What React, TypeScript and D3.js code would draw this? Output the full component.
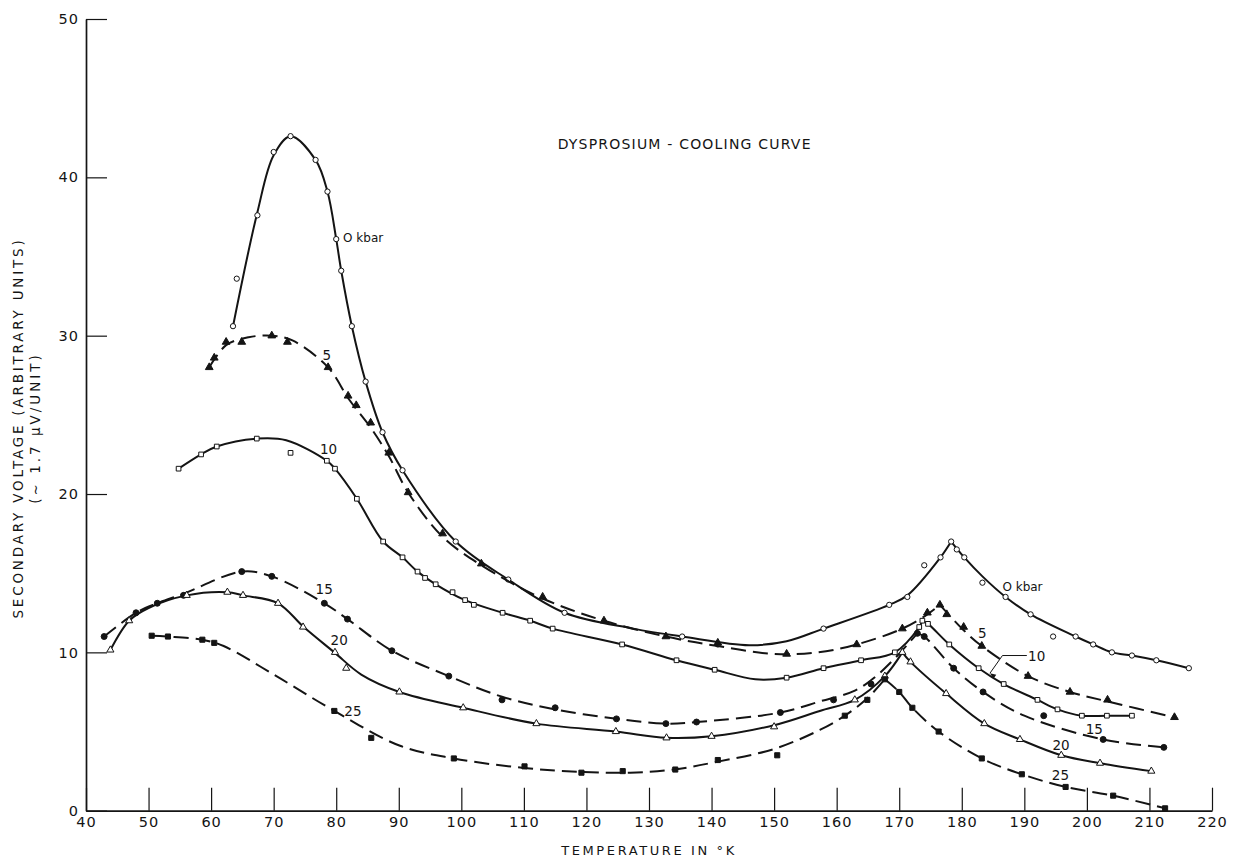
import React, { useRef, useEffect } from "react";
import * as d3 from "d3";

type Pt = [number, number];

// measured points [temperature K, secondary voltage]
const kbar0Points: Pt[] = [
  [63.5, 30.6], [64.1, 33.6], [67.4, 37.6], [70.0, 41.6], [72.7, 42.6], [76.7, 41.1], [78.6, 39.1],
  [80.0, 36.1], [80.8, 34.1], [82.5, 30.6], [84.7, 27.1], [87.4, 23.9], [90.6, 21.5], [99.1, 17.0],
  [107.5, 14.6], [116.5, 12.5], [135.3, 11.0], [141.0, 10.5], [157.9, 11.5], [168.4, 13.0], [171.3, 13.5],
  [174.0, 15.5], [176.6, 16.0], [178.3, 17.0], [179.2, 16.5], [180.4, 16.0], [183.3, 14.4], [187.0, 13.5],
  [191.0, 12.4], [194.6, 11.0], [198.2, 11.0], [201.0, 10.5], [204.0, 10.0], [207.2, 9.8], [211.1, 9.5],
  [216.3, 9.0],
];
const kbar5Points: Pt[] = [
  [59.7, 28.0], [60.5, 28.6], [62.4, 29.6], [64.9, 29.6], [69.7, 30.0], [72.2, 29.6], [78.7, 28.0],
  [81.9, 26.2], [83.2, 25.6], [85.5, 24.5], [88.4, 22.6], [91.5, 20.1], [97.0, 17.5], [103.2, 15.6],
  [113.0, 13.5], [122.8, 12.0], [132.7, 11.0], [141.0, 10.6], [152.0, 9.9], [163.2, 10.5], [170.5, 11.5],
  [174.5, 12.5], [176.5, 13.0], [177.6, 12.4], [180.3, 11.6], [183.2, 10.4], [190.6, 8.5], [197.3, 7.5],
  [203.3, 7.0], [214.0, 5.9],
];
const kbar10Points: Pt[] = [
  [54.8, 21.6], [58.4, 22.5], [60.9, 23.0], [67.3, 23.5], [72.7, 22.6], [78.5, 22.1], [79.8, 21.6],
  [83.3, 19.7], [87.5, 17.0], [90.6, 16.0], [93.0, 15.1], [94.2, 14.7], [95.9, 14.3], [98.6, 13.8],
  [100.6, 13.3], [102.0, 13.0], [106.6, 12.5], [111.0, 12.0], [114.6, 11.5], [125.7, 10.5], [134.4, 9.5],
  [140.5, 8.9], [152.0, 8.4], [157.9, 9.0], [163.9, 9.5], [169.3, 10.0], [173.2, 11.6], [173.7, 12.0],
  [174.6, 11.8], [178.0, 10.5], [182.7, 9.0], [186.7, 8.0], [192.1, 7.0], [195.3, 6.4], [199.2, 6.0],
  [203.2, 6.0], [207.2, 6.0],
];
const kbar15Points: Pt[] = [
  [42.9, 11.0], [48.0, 12.5], [51.4, 13.1], [55.6, 13.6], [64.9, 15.1], [69.7, 14.8], [78.1, 13.1],
  [81.8, 12.1], [88.9, 10.1], [98.0, 8.5], [106.5, 7.0], [115.0, 6.5], [124.8, 5.8], [132.7, 5.5],
  [137.6, 5.6], [151.0, 6.2], [159.5, 7.0], [165.5, 8.0], [172.9, 11.2], [174.0, 11.0], [178.7, 9.0],
  [183.4, 7.5], [193.1, 6.0], [202.6, 4.5], [212.3, 4.0],
];
const kbar20Points: Pt[] = [
  [43.9, 10.15], [46.9, 12.0], [56.1, 13.6], [62.6, 13.8], [65.1, 13.6], [70.7, 13.1], [74.7, 11.6],
  [79.8, 10.0], [81.6, 9.0], [90.1, 7.5], [100.3, 6.5], [112.0, 5.5], [124.7, 5.0], [132.8, 4.6],
  [140.0, 4.7], [150.0, 5.3], [162.9, 7.0], [167.7, 8.5], [170.5, 10.0], [171.8, 9.4], [177.5, 7.4],
  [183.6, 5.5], [189.3, 4.5], [195.9, 3.5], [202.1, 3.0], [210.3, 2.5],
];
const kbar25Points: Pt[] = [
  [50.5, 11.05], [53.1, 11.0], [58.6, 10.8], [60.5, 10.6], [79.7, 6.3], [85.6, 4.6], [98.8, 3.3],
  [110.1, 2.8], [119.2, 2.4], [125.8, 2.5], [134.2, 2.6], [141.0, 3.2], [150.5, 3.5], [161.3, 6.0],
  [164.9, 7.0], [167.7, 8.3], [170.0, 7.5], [172.1, 6.5], [176.3, 5.0], [183.2, 3.3], [189.6, 2.3],
  [196.6, 1.5], [204.2, 0.95], [212.5, 0.15],
];

// smooth curves drawn through the points (cusp at the Neel temperature)
const kbar0Curve: Pt[] = [
  [63.5, 30.6], [67.4, 37.8], [70.0, 41.4], [72.7, 42.6], [76.7, 41.1], [78.6, 39.1], [80.0, 36.1],
  [80.8, 34.1], [82.5, 30.6], [84.7, 27.1], [87.4, 23.9], [90.6, 21.5], [99.1, 17.0], [107.5, 14.6],
  [116.5, 12.5], [127.5, 11.5], [135.3, 11.0], [146.0, 10.45], [152.0, 10.7], [157.9, 11.5], [168.4, 13.0],
  [171.3, 13.6], [176.6, 16.0], [178.3, 17.0], [180.4, 16.0], [183.3, 14.8], [187.0, 13.5], [191.0, 12.4],
  [198.2, 11.0], [201.0, 10.5], [204.0, 10.0], [207.2, 9.8], [211.1, 9.5], [216.3, 9.0],
];
const kbar5Curve: Pt[] = [
  [59.7, 28.0], [62.4, 29.4], [66.0, 29.9], [69.7, 30.0], [73.0, 29.7], [78.7, 28.0], [82.0, 26.0],
  [85.5, 24.2], [88.4, 22.4], [91.5, 20.1], [97.0, 17.3], [103.2, 15.5], [113.0, 13.4], [122.8, 12.0],
  [132.7, 11.0], [141.0, 10.4], [150.0, 9.9], [157.0, 10.0], [163.2, 10.5], [170.5, 11.5], [174.5, 12.4],
  [176.5, 13.0], [180.3, 11.4], [183.2, 10.4], [190.6, 8.5], [197.3, 7.5], [203.3, 6.9], [214.0, 5.9],
];
const kbar10Curve: Pt[] = [
  [54.8, 21.6], [58.4, 22.5], [60.9, 23.0], [67.3, 23.5], [72.0, 23.4], [78.5, 22.1], [79.8, 21.6],
  [83.3, 19.7], [87.5, 17.0], [90.6, 16.0], [93.0, 15.1], [95.9, 14.3], [100.6, 13.3], [106.6, 12.5],
  [111.0, 12.0], [114.6, 11.5], [125.7, 10.5], [134.4, 9.5], [140.5, 8.9], [147.0, 8.3], [152.0, 8.4],
  [157.9, 9.0], [163.9, 9.5], [169.3, 10.0], [173.2, 11.6], [173.7, 12.0], [174.6, 11.8], [178.0, 10.5],
  [182.7, 9.0], [186.7, 8.0], [192.1, 7.0], [195.3, 6.4], [199.2, 6.0], [203.2, 6.0], [207.2, 6.0],
];
const kbar15Curve: Pt[] = [
  [42.9, 11.0], [48.0, 12.5], [51.4, 13.1], [55.6, 13.7], [64.9, 15.1], [69.7, 14.8], [78.1, 13.1],
  [81.8, 12.1], [88.9, 10.1], [98.0, 8.5], [106.5, 7.2], [115.0, 6.4], [124.8, 5.8], [132.7, 5.5],
  [137.6, 5.6], [151.0, 6.2], [157.3, 6.9], [163.0, 7.6], [166.0, 8.4], [169.0, 9.5], [172.9, 11.2],
  [174.0, 11.0], [178.7, 9.0], [183.4, 7.5], [190.0, 6.0], [202.6, 4.5], [212.3, 4.0],
];
const kbar20Curve: Pt[] = [
  [43.9, 10.15], [46.9, 12.0], [50.0, 12.8], [56.1, 13.6], [62.6, 13.8], [65.1, 13.6], [70.7, 13.1],
  [74.8, 11.6], [79.7, 10.0], [84.0, 8.6], [90.1, 7.5], [100.3, 6.5], [112.0, 5.5], [124.7, 5.0],
  [132.8, 4.6], [140.0, 4.7], [150.0, 5.4], [157.3, 6.3], [162.9, 7.0], [167.7, 8.5], [170.5, 10.0],
  [171.8, 9.4], [177.5, 7.4], [183.6, 5.5], [189.3, 4.5], [195.9, 3.5], [202.1, 3.0], [210.3, 2.5],
];
const kbar25Curve: Pt[] = [
  [50.5, 11.05], [53.0, 11.0], [58.6, 10.8], [62.0, 10.4], [70.0, 8.6], [79.7, 6.3], [90.2, 4.1],
  [98.8, 3.3], [110.0, 2.7], [119.0, 2.45], [127.0, 2.4], [134.0, 2.6], [141.0, 3.1], [150.0, 3.9],
  [157.3, 5.1], [161.3, 6.0], [164.9, 7.1], [167.7, 8.3], [170.0, 7.5], [172.1, 6.5], [176.3, 5.0],
  [183.2, 3.3], [189.6, 2.3], [196.6, 1.5], [204.2, 0.95], [212.5, 0.15],
];
const cuspTemps = [178.3, 176.5, 173.7, 172.9, 170.5, 167.7];

const xTicks = [40, 50, 60, 70, 80, 90, 100, 110, 120, 130, 140, 150, 160, 170, 180, 190, 200, 210, 220];
const yTicks = [0, 10, 20, 30, 40, 50];

const labelText = ["O kbar", "5", "10", "15", "20", "25", "O kbar", "5", "10", "15", "20", "25"];
const labelTemps = [81.1, 77.8, 77.4, 76.7, 79.1, 81.3, 186.5, 182.6, 190.6, 199.8, 194.5, 194.4];
const labelVolts = [36.2, 28.8, 22.85, 14.0, 10.75, 6.3, 14.15, 11.2, 9.77, 5.14, 4.15, 2.26];
const leader10: Pt[] = [[190.4, 9.8], [186.5, 9.8], [184.5, 8.68]];

const DysprosiumChart = () => {
  const ref = useRef<SVGSVGElement>(null);

  useEffect(() => {
    const svg = d3.select(ref.current);
    svg.selectAll("*").remove();
    const font = "'DejaVu Sans', Verdana, sans-serif";
    const ink = "#141414";

    const x = d3.scaleLinear().domain([40, 220]).range([86, 1212]);
    const y = d3.scaleLinear().domain([0, 50]).range([810.7, 19]);

    const gx = svg.append("g")
      .attr("transform", `translate(0,${y(0)})`)
      .call(d3.axisBottom(x).tickValues(xTicks).tickSizeInner(-23).tickSizeOuter(0).tickPadding(6));
    const gy = svg.append("g")
      .attr("transform", `translate(${x(40)},0)`)
      .call(d3.axisLeft(y).tickValues(yTicks).tickSizeInner(-21).tickSizeOuter(0).tickPadding(7));
    [gx, gy].forEach((g) => {
      g.select(".domain").attr("stroke", ink).attr("stroke-width", 1.7);
      g.selectAll(".tick line").attr("stroke", ink).attr("stroke-width", 1.2);
      g.selectAll(".tick text")
        .attr("font-family", font)
        .attr("font-size", 14.5)
        .attr("letter-spacing", 1)
        .attr("fill", ink);
    });

    const series = [
      { pts: kbar0Points, curve: kbar0Curve, dashed: false, sym: d3.symbolCircle, size: 22, filled: false },
      { pts: kbar5Points, curve: kbar5Curve, dashed: true, sym: d3.symbolTriangle, size: 26, filled: true },
      { pts: kbar10Points, curve: kbar10Curve, dashed: false, sym: d3.symbolSquare, size: 22, filled: false },
      { pts: kbar15Points, curve: kbar15Curve, dashed: true, sym: d3.symbolCircle, size: 28, filled: true },
      { pts: kbar20Points, curve: kbar20Curve, dashed: false, sym: d3.symbolTriangle, size: 22, filled: false },
      { pts: kbar25Points, curve: kbar25Curve, dashed: true, sym: d3.symbolSquare, size: 26, filled: true },
    ];

    const line = d3.line<Pt>()
      .x((d) => x(d[0]))
      .y((d) => y(d[1]))
      .curve(d3.curveCatmullRom.alpha(0.5));

    series.forEach((s, i) => {
      const cusp = cuspTemps[i];
      const branches = [s.curve.filter((d) => d[0] <= cusp), s.curve.filter((d) => d[0] >= cusp)];
      branches.forEach((b) => {
        svg.append("path")
          .attr("d", line(b))
          .attr("fill", "none")
          .attr("stroke", ink)
          .attr("stroke-width", 2)
          .attr("stroke-dasharray", s.dashed ? "15,7" : null);
      });
      svg.append("g")
        .selectAll("path")
        .data(s.pts)
        .enter()
        .append("path")
        .attr("transform", (d) => `translate(${x(d[0])},${y(d[1])})`)
        .attr("d", d3.symbol().type(s.sym).size(s.size))
        .attr("fill", s.filled ? ink : "#fff")
        .attr("stroke", ink)
        .attr("stroke-width", 1);
    });

    svg.append("g")
      .selectAll("text")
      .data(labelText)
      .enter()
      .append("text")
      .attr("x", (d, i) => x(labelTemps[i]))
      .attr("y", (d, i) => y(labelVolts[i]))
      .attr("dominant-baseline", "central")
      .attr("font-family", font)
      .attr("font-size", (d) => (d.length > 2 ? 12 : 13.5))
      .attr("fill", ink)
      .text((d) => d);

    svg.append("path")
      .attr("d", d3.line<Pt>().x((d) => x(d[0])).y((d) => y(d[1]))(leader10))
      .attr("fill", "none")
      .attr("stroke", ink)
      .attr("stroke-width", 1);
    const tip = leader10[2];
    svg.append("path")
      .attr("transform", `translate(${x(tip[0])},${y(tip[1])}) rotate(215)`)
      .attr("d", "M0,0 L-6,-2.5 L-6,2.5 Z")
      .attr("fill", ink);

    svg.append("text")
      .attr("x", x(135.7))
      .attr("y", y(42.1))
      .attr("text-anchor", "middle")
      .attr("dominant-baseline", "central")
      .attr("font-family", font)
      .attr("font-size", 14)
      .attr("letter-spacing", 1.2)
      .attr("fill", ink)
      .text("DYSPROSIUM - COOLING CURVE");

    svg.append("text")
      .attr("x", x(130))
      .attr("y", 850)
      .attr("text-anchor", "middle")
      .attr("dominant-baseline", "central")
      .attr("font-family", font)
      .attr("font-size", 13)
      .attr("letter-spacing", 2.6)
      .attr("fill", ink)
      .text("TEMPERATURE  IN  °K");

    const yTitle = svg.append("g").attr("transform", "translate(18,428) rotate(-90)");
    yTitle.append("text")
      .attr("text-anchor", "middle")
      .attr("dominant-baseline", "central")
      .attr("font-family", font)
      .attr("font-size", 13.5)
      .attr("letter-spacing", 2.8)
      .attr("fill", ink)
      .text("SECONDARY VOLTAGE (ARBITRARY UNITS)");
    yTitle.append("text")
      .attr("y", 17)
      .attr("text-anchor", "middle")
      .attr("dominant-baseline", "central")
      .attr("font-family", font)
      .attr("font-size", 13.5)
      .attr("letter-spacing", 3)
      .attr("fill", ink)
      .text("(∼ 1.7 μV/UNIT)");
  }, []);

  return (
    <svg
      ref={ref}
      width={1233}
      height={859}
      style={{ position: "absolute", left: 0, top: 0, background: "#fff" }}
    />
  );
};

export default function App() {
  return <DysprosiumChart />;
}
